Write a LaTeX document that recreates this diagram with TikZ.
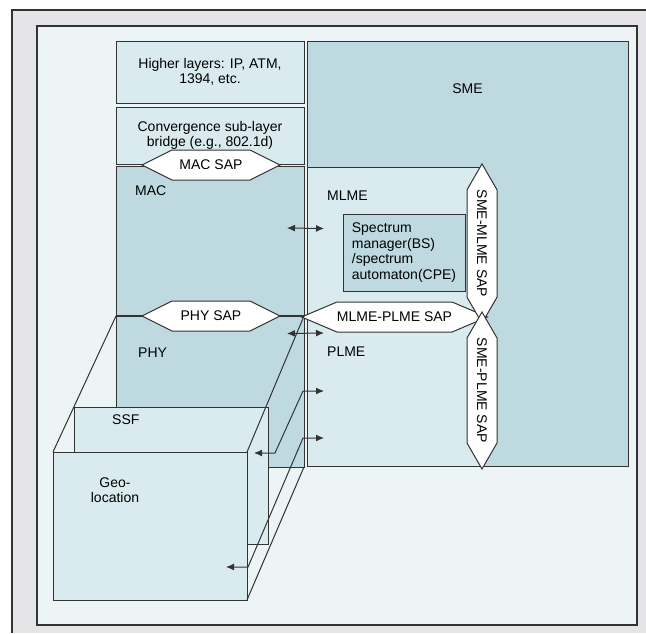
\documentclass[tikz,border=0pt]{standalone}
\usepackage{fontspec}
\setmainfont{Liberation Sans}
\usetikzlibrary{positioning, arrows.meta, shapes.symbols}
\definecolor{bggray}{HTML}{E5E5E7}
\definecolor{inbg}{HTML}{ECF4F6}
\definecolor{lightc}{HTML}{D9EBEE}
\definecolor{darkc}{HTML}{BEDAE0}
\definecolor{linec}{HTML}{333333}

\begin{document}
\begin{tikzpicture}[
		x=1pt, y=-1pt,
		font=\fontsize{14}{15.5}\selectfont,
		box/.style={rectangle, draw=linec, line width=1pt, inner sep=0pt, outer sep=0pt, anchor=north west, align=center},
		lightbox/.style={box, fill=lightc},
		darkbox/.style={box, fill=darkc},
		sap/.style={signal, signal to=east and west, draw=linec, line width=1pt, fill=white, inner sep=0pt, outer sep=0pt, minimum height=30pt},
		lbl/.style={inner sep=0pt, anchor=west},
		dbl/.style={{Latex[length=8pt,width=7pt]}-{Latex[length=8pt,width=7pt]}, line width=1pt, draw=linec},
		edge3d/.style={line width=1pt, draw=linec}
		]
		
		% --- KHUNG NỀN ---
		\useasboundingbox (0,0) rectangle (646,633);
		\fill[bggray] (12,10) rectangle (646,633);
		\draw[line width=1.3pt, linec] (12,633) -- (12,10) -- (646,10);
		\draw[line width=1.3pt, linec, fill=inbg] (37,26) rectangle (637,625);
		
		% --- CỘT TRÁI: CÁC TẦNG ---
		\node[lightbox, minimum width=188pt, minimum height=62pt] (hl) at (116,41) {Higher layers: IP, ATM,\\1394, etc.};
		\node[lightbox, minimum width=188pt, minimum height=57pt] (conv) at (116,107) {Convergence sub-layer\\bridge (e.g., 802.1d)};
		\node[darkbox, minimum width=188pt, minimum height=150pt] (mac) at (116,166) {};
		\node[darkbox, minimum width=188pt, minimum height=151pt] (phy) at (116,316) {};
		
		% --- CỘT PHẢI: SME ---
		\node[darkbox, minimum width=321pt, minimum height=425pt] (sme) at (307,41) {};
		\node[lightbox, minimum width=175pt, minimum height=149pt] (mlme) at (307,167) {};
		\node[lightbox, minimum width=175pt, minimum height=150pt] (plme) at (307,316) {};
		\node[darkbox, minimum width=122pt, minimum height=77pt, align=left] (spec) at (343,214) {Spectrum\\manager(BS)\\/spectrum\\automaton(CPE)};
		
		% Đường SAP nằm ngang
		\draw[line width=2.2pt, linec] (phy.north west) -- (plme.north east);
		
		% --- CÁC SAP ---
		\node[sap, minimum width=138pt, signal pointer angle=53] (macsap) at (211,165) {MAC SAP};
		\node[sap, minimum width=138pt, signal pointer angle=53] (physap) at (211,316) {PHY SAP};
		\node[sap, minimum width=157pt, signal pointer angle=46] (mpsap) at (394.5,317) {MLME-PLME SAP};
		\node[sap, minimum width=139pt, signal pointer angle=60, rotate=-90] (smsap) at (482,243.5) {SME-MLME SAP};
		\node[sap, minimum width=139pt, signal pointer angle=60, rotate=-90] (spsap) at (482,390.5) {SME-PLME SAP};
		
		% --- KHỐI SSF / GEO-LOCATION ---
		\node[lightbox, minimum width=194pt, minimum height=137pt] (ssf) at (74,407) {};
		\node[lightbox, minimum width=194pt, minimum height=148pt] (geo) at (53,452) {};
		
		% Cạnh hình hộp
		\draw[edge3d] (phy.north west) -- (geo.north west);
		\draw[edge3d] (phy.north east) -- (geo.north east);
		\draw[edge3d] (phy.south east) -- (geo.south east);
		
		% --- NHÃN ---
		\node[lbl] (maclbl) at ([shift={(19pt,-25pt)}]mac.north west) {MAC};
		\node[lbl] (phylbl) at ([shift={(22pt,-37pt)}]phy.north west) {PHY};
		\node[lbl] (mlmelbl) at ([shift={(20pt,-29pt)}]mlme.north west) {MLME};
		\node[lbl] (plmelbl) at ([shift={(20pt,-36pt)}]plme.north west) {PLME};
		\node (smelbl) at ([yshift=-48pt]sme.north) {SME};
		\node[lbl] (ssflbl) at ([shift={(38pt,-13pt)}]ssf.north west) {SSF};
		\node[align=center] (geolbl) at ([shift={(62pt,-38pt)}]geo.north west) {Geo-\\location};
		
		% --- MŨI TÊN ---
		\draw[dbl] ([shift={(-17pt,13pt)}]mac.east) -- ([shift={(17pt,13pt)}]mlme.west);
		\draw[dbl] ([shift={(-17pt,58pt)}]phy.east) -- ([shift={(17pt,58pt)}]plme.west);
		\draw[dbl] ([shift={(-14pt,-46pt)}]ssf.north east) -- ++(21,0) -- ([xshift=-4pt]plme.west) -- ([xshift=17pt]plme.west);
		\draw[dbl] ([shift={(-21pt,-115pt)}]geo.north east) -- ++(22,0) -- ([shift={(-4pt,-47pt)}]plme.west) -- ([shift={(17pt,-47pt)}]plme.west);
		
	\end{tikzpicture}
\end{document}
